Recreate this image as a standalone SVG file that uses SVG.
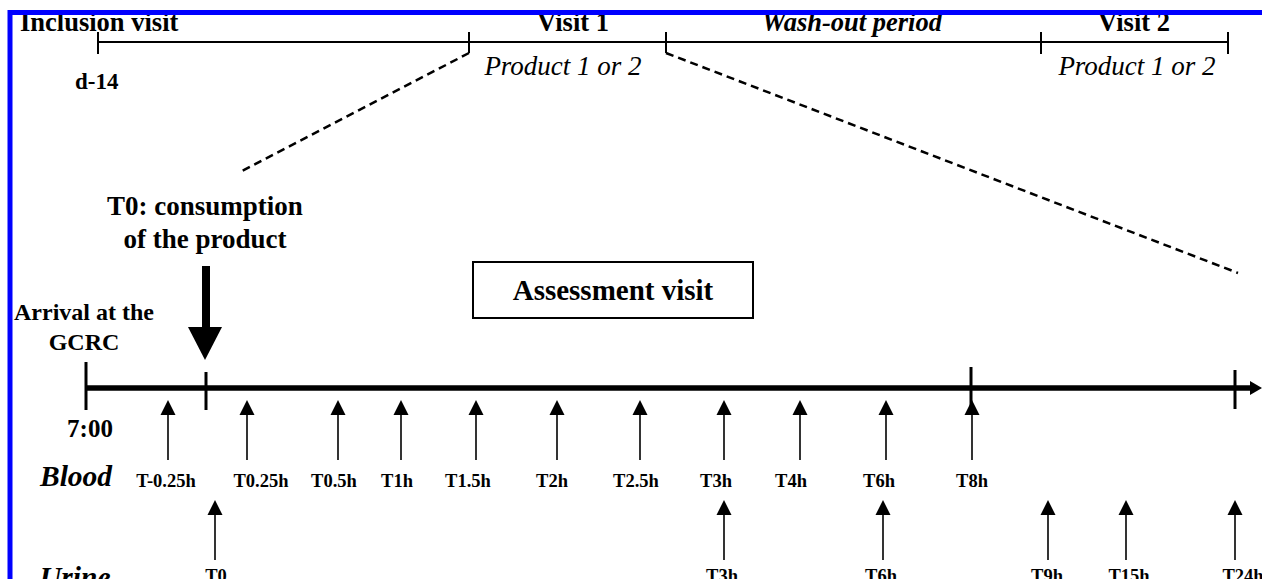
<svg xmlns="http://www.w3.org/2000/svg" width="1262" height="579" viewBox="0 0 1262 579">
<defs>
<style>
.b{font-family:"Liberation Serif","Times New Roman",serif;font-weight:bold;fill:#000}
.i{font-family:"Liberation Serif","Times New Roman",serif;font-style:italic;fill:#000}
.bi{font-family:"Liberation Serif","Times New Roman",serif;font-weight:bold;font-style:italic;fill:#000}
.lbl{font-size:18.5px;text-anchor:middle}
.tl{stroke:#000;stroke-width:2;fill:none}
.dash{stroke:#000;stroke-width:2.5;stroke-dasharray:8 5;fill:none}
.shaft{stroke:#000;stroke-width:1.6}
.head{fill:#000}
</style>
<path id="ah" d="M0 0 L7.5 15 L-7.5 15 Z"/>
</defs>
<rect width="1262" height="579" fill="#fff"/>

<g id="top-timeline">
<line class="tl" x1="98" y1="42" x2="1228" y2="42"/>
<line class="tl" x1="98" y1="32" x2="98" y2="54"/>
<line class="tl" x1="469" y1="32" x2="469" y2="53"/>
<line class="tl" x1="666" y1="32" x2="666" y2="53"/>
<line class="tl" x1="1041" y1="32" x2="1041" y2="54"/>
<line class="tl" x1="1228" y1="32" x2="1228" y2="54" stroke-width="3"/>
<text class="b" x="20" y="31" font-size="26.5">Inclusion visit</text>
<text class="b" x="573" y="31" font-size="26.5" text-anchor="middle">Visit 1</text>
<text class="bi" x="852" y="31" font-size="26.5" text-anchor="middle">Wash-out period</text>
<text class="b" x="1134" y="31" font-size="26.5" text-anchor="middle">Visit 2</text>
<text class="b" x="75" y="89" font-size="23">d-14</text>
<text class="i" x="563" y="75" font-size="27" text-anchor="middle">Product 1 or 2</text>
<text class="i" x="1137" y="75" font-size="27" text-anchor="middle">Product 1 or 2</text>
</g>

<g id="zoom-lines">
<line class="dash" x1="469" y1="53" x2="240" y2="172"/>
<line class="dash" x1="666" y1="53" x2="1238" y2="273"/>
</g>

<g id="t0-consumption">
<text class="b" x="205" y="215" font-size="27" text-anchor="middle">T0: consumption</text>
<text class="b" x="205" y="248" font-size="27" text-anchor="middle">of the product</text>
<rect x="202" y="266" width="8" height="62" fill="#000"/>
<path d="M188 327 L222 327 L205 360 Z" fill="#000"/>
</g>

<g id="arrival">
<text class="b" x="84" y="320" font-size="24" text-anchor="middle">Arrival at the</text>
<text class="b" x="84" y="350" font-size="24" text-anchor="middle">GCRC</text>
<text class="b" x="90" y="437" font-size="25" text-anchor="middle">7:00</text>
</g>

<g id="assessment-visit">
<rect x="473" y="262" width="280" height="56" fill="#fff" stroke="#000" stroke-width="2"/>
<text class="b" x="613" y="300" font-size="29" text-anchor="middle">Assessment visit</text>
</g>

<g id="main-timeline">
<line x1="86" y1="388" x2="1254" y2="388" stroke="#000" stroke-width="5.5"/>
<path d="M1250 381 L1262 388 L1250 395 Z" fill="#000"/>
<line x1="86" y1="362" x2="86" y2="410" stroke="#000" stroke-width="3"/>
<line x1="206" y1="372" x2="206" y2="410" stroke="#000" stroke-width="3"/>
<line x1="971" y1="367" x2="971" y2="412" stroke="#000" stroke-width="3"/>
<line x1="1235" y1="370" x2="1235" y2="409" stroke="#000" stroke-width="3"/>
</g>

<g id="blood">
<text class="bi" x="40" y="486" font-size="29.5">Blood</text>
<g class="shaft">
<line x1="168" y1="414" x2="168" y2="460"/>
<line x1="247" y1="414" x2="247" y2="460"/>
<line x1="338" y1="414" x2="338" y2="460"/>
<line x1="401" y1="414" x2="401" y2="460"/>
<line x1="476" y1="414" x2="476" y2="460"/>
<line x1="557" y1="414" x2="557" y2="460"/>
<line x1="640" y1="414" x2="640" y2="460"/>
<line x1="724" y1="414" x2="724" y2="460"/>
<line x1="800" y1="414" x2="800" y2="460"/>
<line x1="886" y1="414" x2="886" y2="460"/>
<line x1="972" y1="414" x2="972" y2="460"/>
</g>
<g class="head">
<use href="#ah" x="168" y="400"/>
<use href="#ah" x="247" y="400"/>
<use href="#ah" x="338" y="400"/>
<use href="#ah" x="401" y="400"/>
<use href="#ah" x="476" y="400"/>
<use href="#ah" x="557" y="400"/>
<use href="#ah" x="640" y="400"/>
<use href="#ah" x="724" y="400"/>
<use href="#ah" x="800" y="400"/>
<use href="#ah" x="886" y="400"/>
<use href="#ah" x="972" y="400"/>
</g>
<g class="b lbl">
<text x="166" y="487">T-0.25h</text>
<text x="261" y="487">T0.25h</text>
<text x="334" y="487">T0.5h</text>
<text x="397" y="487">T1h</text>
<text x="468" y="487">T1.5h</text>
<text x="552" y="487">T2h</text>
<text x="636" y="487">T2.5h</text>
<text x="716" y="487">T3h</text>
<text x="791" y="487">T4h</text>
<text x="879" y="487">T6h</text>
<text x="972" y="487">T8h</text>
</g>
</g>

<g id="urine">
<text class="bi" x="40" y="587" font-size="29.5">Urine</text>
<g class="shaft">
<line x1="215" y1="514" x2="215" y2="560"/>
<line x1="724" y1="514" x2="724" y2="560"/>
<line x1="883" y1="514" x2="883" y2="560"/>
<line x1="1048" y1="514" x2="1048" y2="560"/>
<line x1="1126" y1="514" x2="1126" y2="560"/>
<line x1="1235" y1="514" x2="1235" y2="560"/>
</g>
<g class="head">
<use href="#ah" x="215" y="500"/>
<use href="#ah" x="724" y="500"/>
<use href="#ah" x="883" y="500"/>
<use href="#ah" x="1048" y="500"/>
<use href="#ah" x="1126" y="500"/>
<use href="#ah" x="1235" y="500"/>
</g>
<g class="b lbl">
<text x="216" y="582">T0</text>
<text x="722" y="582">T3h</text>
<text x="881" y="582">T6h</text>
<text x="1047" y="582">T9h</text>
<text x="1129" y="582">T15h</text>
<text x="1243" y="582">T24h</text>
</g>
</g>

<path id="frame" d="M10 579 V12.5 H1262" fill="none" stroke="#0000ff" stroke-width="5"/>
</svg>
